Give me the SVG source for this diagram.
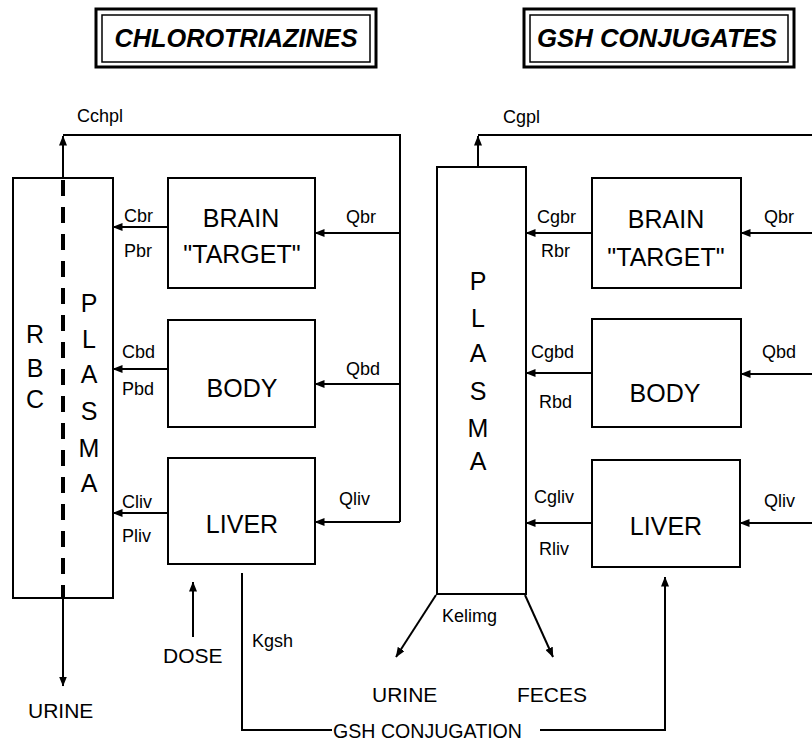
<svg xmlns="http://www.w3.org/2000/svg" width="812" height="750" viewBox="0 0 812 750">
<defs>
<marker id="ah" viewBox="0 0 10 8" refX="9.5" refY="4" markerWidth="10" markerHeight="8" orient="auto" markerUnits="userSpaceOnUse">
<path d="M0,0 L10,4 L0,8 z" fill="#000"/>
</marker>
<style>
.bx{fill:#fff;stroke:#000;stroke-width:2}
.ln{fill:none;stroke:#000;stroke-width:2}
.ar{fill:none;stroke:#000;stroke-width:2;marker-end:url(#ah)}
.ttl{font-family:"Liberation Sans",Arial,sans-serif;font-size:25px;font-weight:bold;font-style:italic;text-anchor:middle;fill:#000}
.big{font-family:"Liberation Sans",Arial,sans-serif;font-size:25px;text-anchor:middle;fill:#000}
.mid{font-family:"Liberation Sans",Arial,sans-serif;font-size:21px;fill:#000}
.lab{font-family:"Liberation Sans",Arial,sans-serif;font-size:18px;fill:#000}
</style>
</defs>
<rect width="812" height="750" fill="#fff"/>

<g id="title-chlorotriazines">
<rect x="96" y="9" width="280" height="58" fill="#fff" stroke="#000" stroke-width="3"/>
<rect x="102" y="15" width="268" height="47" fill="none" stroke="#000" stroke-width="1.5"/>
<text class="ttl" x="236" y="47" textLength="243" lengthAdjust="spacingAndGlyphs">CHLOROTRIAZINES</text>
</g>
<g id="title-gsh">
<rect x="524" y="9" width="270" height="58" fill="#fff" stroke="#000" stroke-width="3"/>
<rect x="530" y="15" width="258" height="47" fill="none" stroke="#000" stroke-width="1.5"/>
<text class="ttl" x="657" y="47" textLength="240" lengthAdjust="spacingAndGlyphs">GSH CONJUGATES</text>
</g>

<!-- Left model -->
<g id="l-plasma-rbc">
<rect class="bx" x="13" y="178" width="100" height="420"/>
<line x1="63" y1="180" x2="63" y2="597" stroke="#000" stroke-width="4" stroke-dasharray="16 11"/>
<g class="big" font-size="24">
<text x="35" y="343">R</text>
<text x="35" y="377">B</text>
<text x="35" y="408">C</text>
<text x="89" y="312">P</text>
<text x="89" y="348">L</text>
<text x="89" y="383">A</text>
<text x="89" y="420">S</text>
<text x="89" y="457">M</text>
<text x="89" y="492">A</text>
</g>
</g>
<g id="l-brain">
<rect class="bx" x="168" y="178" width="147" height="110"/>
<text class="big" x="241" y="227">BRAIN</text>
<text class="big" x="242" y="263">"TARGET"</text>
</g>
<g id="l-body">
<rect class="bx" x="168" y="320" width="147" height="107"/>
<text class="big" x="242" y="397">BODY</text>
</g>
<g id="l-liver">
<rect class="bx" x="168" y="458" width="147" height="106"/>
<text class="big" x="242" y="533">LIVER</text>
</g>

<!-- Right model -->
<g id="r-plasma">
<rect class="bx" x="437" y="167" width="89" height="427"/>
<g class="big" font-size="24">
<text x="478" y="290">P</text>
<text x="478" y="327">L</text>
<text x="478" y="362">A</text>
<text x="478" y="400">S</text>
<text x="478" y="437">M</text>
<text x="478" y="470">A</text>
</g>
</g>
<g id="r-brain">
<rect class="bx" x="592" y="178" width="149" height="110"/>
<text class="big" x="666" y="228">BRAIN</text>
<text class="big" x="666" y="266">"TARGET"</text>
</g>
<g id="r-body">
<rect class="bx" x="592" y="319" width="149" height="108"/>
<text class="big" x="665" y="402">BODY</text>
</g>
<g id="r-liver">
<rect class="bx" x="592" y="460" width="148" height="107"/>
<text class="big" x="666" y="535">LIVER</text>
</g>

<g id="connectors">
<!-- left loop -->
<polyline class="ln" points="63,135 400,135 400,522"/>
<line class="ar" x1="63" y1="178" x2="63" y2="136"/>
<line class="ar" x1="400" y1="233" x2="315" y2="233"/>
<line class="ar" x1="400" y1="384" x2="315" y2="384"/>
<line class="ar" x1="400" y1="522" x2="315" y2="522"/>
<line class="ar" x1="168" y1="227" x2="113" y2="227"/>
<line class="ar" x1="168" y1="369" x2="113" y2="369"/>
<line class="ar" x1="168" y1="513" x2="113" y2="513"/>
<line class="ar" x1="63" y1="598" x2="63" y2="686"/>
<line class="ar" x1="193" y1="637" x2="193" y2="582"/>
<polyline class="ln" points="242,573 242,730 332,730"/>
<polyline class="ar" points="540,730 665,730 665,577"/>
<!-- right loop -->
<line class="ln" x1="478" y1="135" x2="812" y2="135"/>
<line class="ar" x1="478" y1="167" x2="478" y2="136"/>
<line class="ar" x1="812" y1="233" x2="741" y2="233"/>
<line class="ar" x1="812" y1="374" x2="741" y2="374"/>
<line class="ar" x1="812" y1="523" x2="740" y2="523"/>
<line class="ar" x1="592" y1="233" x2="526" y2="233"/>
<line class="ar" x1="592" y1="373" x2="526" y2="373"/>
<line class="ar" x1="592" y1="523" x2="526" y2="523"/>
<line class="ar" x1="436" y1="595" x2="396" y2="657"/>
<line class="ar" x1="525" y1="595" x2="553" y2="657"/>
</g>

<g id="labels">
<text class="lab" x="77" y="122">Cchpl</text>
<text class="lab" x="124" y="222">Cbr</text>
<text class="lab" x="124" y="257">Pbr</text>
<text class="lab" x="346" y="223">Qbr</text>
<text class="lab" x="122" y="358">Cbd</text>
<text class="lab" x="122" y="395">Pbd</text>
<text class="lab" x="346" y="375">Qbd</text>
<text class="lab" x="122" y="508">Cliv</text>
<text class="lab" x="122" y="542">Pliv</text>
<text class="lab" x="339" y="505">Qliv</text>
<text class="mid" x="163" y="663">DOSE</text>
<text class="lab" x="252" y="647">Kgsh</text>
<text class="mid" x="28" y="718">URINE</text>
<text class="mid" x="333" y="738" textLength="189" lengthAdjust="spacingAndGlyphs">GSH CONJUGATION</text>

<text class="lab" x="503" y="123">Cgpl</text>
<text class="lab" x="537" y="223">Cgbr</text>
<text class="lab" x="541" y="257">Rbr</text>
<text class="lab" x="764" y="223">Qbr</text>
<text class="lab" x="531" y="358">Cgbd</text>
<text class="lab" x="539" y="408">Rbd</text>
<text class="lab" x="762" y="358">Qbd</text>
<text class="lab" x="534" y="503">Cgliv</text>
<text class="lab" x="539" y="555">Rliv</text>
<text class="lab" x="764" y="507">Qliv</text>
<text class="lab" x="442" y="622">Kelimg</text>
<text class="mid" x="372" y="702">URINE</text>
<text class="mid" x="517" y="702">FECES</text>
</g>
</svg>
